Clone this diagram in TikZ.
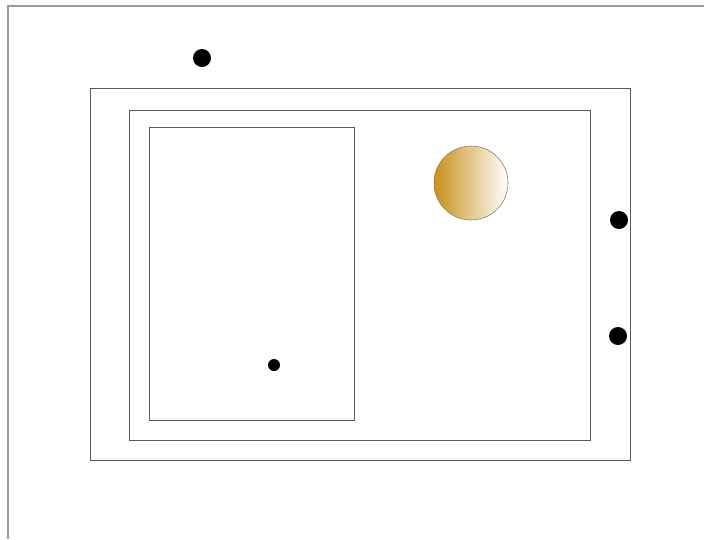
\documentclass[tikz,border=0pt]{standalone}
\usepackage{tikz}
\usetikzlibrary{positioning}
\definecolor{sungold}{RGB}{200,145,25}
\definecolor{sunrim}{RGB}{150,130,100}

\begin{document}
\begin{tikzpicture}[x=1pt, y=-1pt,
    wall/.style={draw=black!65, line width=0.9pt},
    dot/.style={fill=black}]
    \useasboundingbox (0,0) rectangle (704,539);
    % outer frame (open to right and bottom)
    \draw[black!40, line width=1.4pt] (8,539) -- (8,6) -- (704,6);

    % nested rectangles
    \draw[wall] (90,88) rectangle (630,460);
    \draw[wall] (129,110) rectangle (590,440);
    \draw[wall] (149,127) rectangle (354,420);

    % shaded disc
    \shade[left color=sungold, middle color=sungold!55, right color=white,
        draw=sunrim, line width=0.6pt] (471,183) circle (37);

    % dots
    \fill[dot] (202,58) circle (9);
    \fill[dot] (619,220) circle (9);
    \fill[dot] (618,336) circle (9);
    \fill[dot] (274,365) circle (6);
\end{tikzpicture}
\end{document}
